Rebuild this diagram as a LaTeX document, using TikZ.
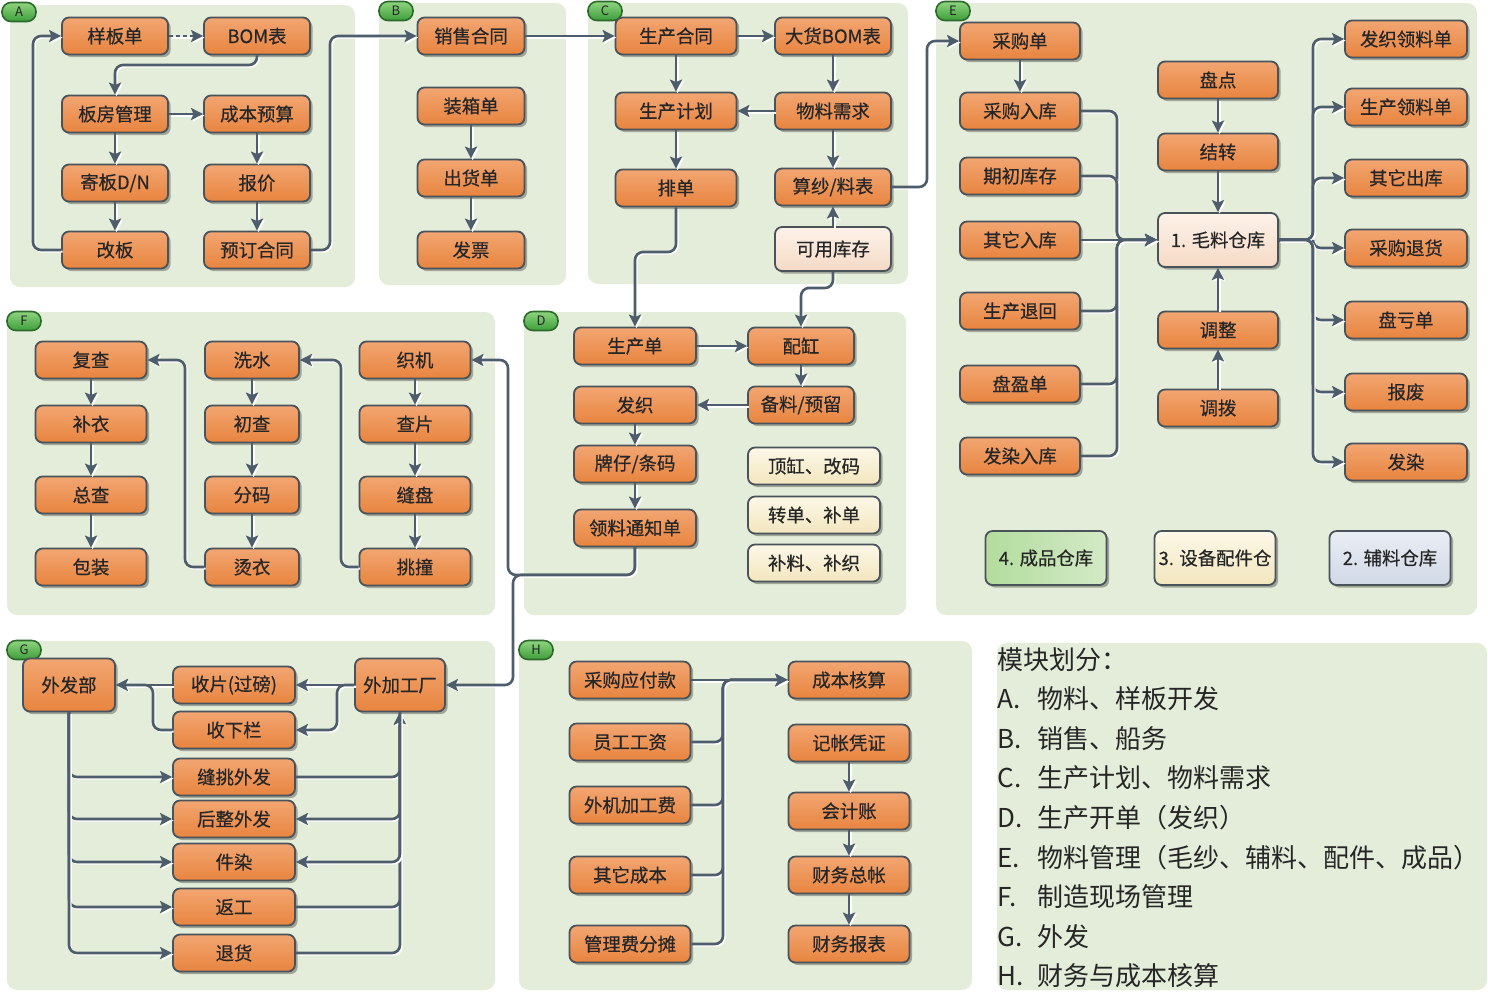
\documentclass[tikz,border=0pt]{standalone}
\usepackage{fontspec}
\setmainfont{Noto Sans CJK SC}
\newfontfamily\boxfont[FakeBold=0.5]{Noto Sans CJK SC}
\usetikzlibrary{arrows.meta,shadows,calc}
\definecolor{panelbg}{HTML}{E4EDDA}
\definecolor{boxdraw}{HTML}{4A525A}
\definecolor{orT}{HTML}{F2A672}
\definecolor{orB}{HTML}{E8843F}
\definecolor{pkT}{HTML}{FDF2E9}
\definecolor{pkB}{HTML}{F5DAC6}
\definecolor{bgT}{HTML}{FCF8E8}
\definecolor{bgB}{HTML}{F3E6BE}
\definecolor{grT}{HTML}{B3DC9E}
\definecolor{grB}{HTML}{D3EAC6}
\definecolor{blT}{HTML}{E9EDF4}
\definecolor{blB}{HTML}{D2D9E6}
\definecolor{tgT}{HTML}{8FD47F}
\definecolor{tgB}{HTML}{3E9E3A}
\definecolor{tgD}{HTML}{2C6A2C}
\definecolor{linec}{HTML}{4E5D6C}
\definecolor{txt}{HTML}{262626}
\begin{document}
\begin{tikzpicture}[x=0.5pt,y=-0.5pt,
  box/.style={draw=boxdraw, line width=0.9pt, rounded corners=3.5pt,
    top color=orT, bottom color=orB, minimum height=18.5pt, inner sep=1pt,
    text=txt, font=\boxfont\fontsize{9.2}{10}\selectfont,
    drop shadow={shadow xshift=1.3pt, shadow yshift=-1.3pt, opacity=0.3, fill=black}},
  bw/.style={minimum width=#1*0.5pt},
  bh/.style={minimum height=#1*0.5pt},
  pink/.style={top color=pkT, bottom color=pkB},
  beige/.style={top color=bgT, bottom color=bgB},
  greenb/.style={left color=grT, right color=grB},
  blueb/.style={top color=blT, bottom color=blB},
  tag/.style={draw=tgD, line width=0.8pt, rounded corners=4.5pt, top color=tgT, bottom color=tgB,
    minimum width=17pt, minimum height=9.5pt, inner sep=0pt, font=\fontsize{6.5}{7}\selectfont, text=txt},
  conn/.style={draw=linec, line width=1.3pt, rounded corners=4pt,
    preaction={draw=white, line width=1.1pt, transform canvas={shift={(0.8pt,-0.8pt)}}}},
  arr/.style={conn, -{Stealth[length=6pt,width=6pt,inset=1.2pt]}},
  leg/.style={anchor=west, inner sep=0pt, text=txt, font=\fontsize{13}{15}\selectfont},
]
\useasboundingbox (0,0) rectangle (1488,993);
\fill[white] (0,0) rectangle (1488,993);
% panels
\fill[panelbg, rounded corners=5pt] (10,5) rectangle (355,287);
\fill[panelbg, rounded corners=5pt] (379,3) rectangle (566,285);
\fill[panelbg, rounded corners=5pt] (588,3) rectangle (908,284);
\fill[panelbg, rounded corners=5pt] (936,3) rectangle (1477,615);
\fill[panelbg, rounded corners=5pt] (7,312) rectangle (495,615);
\fill[panelbg, rounded corners=5pt] (524,312) rectangle (906,615);
\fill[panelbg, rounded corners=5pt] (7,641) rectangle (495,990);
\fill[panelbg, rounded corners=5pt] (519,641) rectangle (972,990);
\fill[panelbg, rounded corners=5pt] (997,643) rectangle (1487,990);
% tags
\node[tag] (tA) at (19,12) {A};
\node[tag] (tB) at (396,11) {B};
\node[tag] (tC) at (605,11) {C};
\node[tag] (tE) at (953,11) {E};
\node[tag] (tF) at (24,321) {F};
\node[tag] (tD) at (541,321) {D};
\node[tag] (tG) at (24,650) {G};
\node[tag] (tH) at (536,650) {H};
% A
\node[box,bw=106] (a1) at (115,36) {样板单};
\node[box,bw=106] (a2) at (257,36) {BOM表};
\node[box,bw=106] (a3) at (115,114) {板房管理};
\node[box,bw=106] (a4) at (257,114) {成本预算};
\node[box,bw=106] (a5) at (115,183) {寄板D/N};
\node[box,bw=106] (a6) at (257,183) {报价};
\node[box,bw=106] (a7) at (115,250) {改板};
\node[box,bw=106] (a8) at (257,250) {预订合同};
% B
\node[box,bw=107] (b1) at (471,36) {销售合同};
\node[box,bw=107] (b2) at (471,106) {装箱单};
\node[box,bw=107] (b3) at (471,178) {出货单};
\node[box,bw=107] (b4) at (471,250) {发票};
% C
\node[box,bw=121] (c1) at (676,36) {生产合同};
\node[box,bw=116] (c2) at (833,36) {大货BOM表};
\node[box,bw=121] (c3) at (676,111) {生产计划};
\node[box,bw=116] (c4) at (833,111) {物料需求};
\node[box,bw=121] (c5) at (676,188) {排单};
\node[box,bw=116] (c6) at (833,187) {算纱/料表};
\node[box,pink,bw=116,bh=44] (c7) at (833,249) {可用库存};
% E
\node[box,bw=120] (e1) at (1020,41) {采购单};
\node[box,bw=120] (e2) at (1020,111) {采购入库};
\node[box,bw=120] (e3) at (1020,176) {期初库存};
\node[box,bw=120] (e4) at (1020,240) {其它入库};
\node[box,bw=120] (e5) at (1020,311) {生产退回};
\node[box,bw=120] (e6) at (1020,384) {盘盈单};
\node[box,bw=120] (e7) at (1020,456) {发染入库};
\node[box,bw=120] (m2) at (1218,80) {盘点};
\node[box,bw=120] (m3) at (1218,152) {结转};
\node[box,pink,bw=120,bh=54] (m1) at (1218,240) {1. 毛料仓库};
\node[box,bw=120] (m4) at (1218,330) {调整};
\node[box,bw=120] (m5) at (1218,408) {调拨};
\node[box,bw=122] (r1) at (1406,39) {发织领料单};
\node[box,bw=122] (r2) at (1406,107) {生产领料单};
\node[box,bw=122] (r3) at (1406,178) {其它出库};
\node[box,bw=122] (r4) at (1406,248) {采购退货};
\node[box,bw=122] (r5) at (1406,320) {盘亏单};
\node[box,bw=122] (r6) at (1406,392) {报废};
\node[box,bw=122] (r7) at (1406,462) {发染};
\node[box,greenb,bw=121,bh=54] (s1) at (1046,558) {4. 成品仓库};
\node[box,beige,bw=121,bh=54] (s2) at (1215,558) {3. 设备配件仓};
\node[box,blueb,bw=121,bh=54] (s3) at (1390,558) {2. 辅料仓库};
% D
\node[box,bw=122] (d1) at (635,346) {生产单};
\node[box,bw=106] (d2) at (801,346) {配缸};
\node[box,bw=106] (d3) at (801,405) {备料/预留};
\node[box,bw=122] (d4) at (635,405) {发织};
\node[box,bw=122] (d5) at (635,464) {牌仔/条码};
\node[box,bw=122] (d6) at (635,528) {领料通知单};
\node[box,beige,bw=132] (n1) at (814,466) {顶缸、改码};
\node[box,beige,bw=132] (n2) at (814,515) {转单、补单};
\node[box,beige,bw=132] (n3) at (814,563) {补料、补织};
% F
\node[box,bw=111] (f1) at (91,360) {复查};
\node[box,bw=111] (f2) at (91,424) {补衣};
\node[box,bw=111] (f3) at (91,495) {总查};
\node[box,bw=111] (f4) at (91,567) {包装};
\node[box,bw=94] (f5) at (252,360) {洗水};
\node[box,bw=94] (f6) at (252,424) {初查};
\node[box,bw=94] (f7) at (252,495) {分码};
\node[box,bw=94] (f8) at (252,567) {烫衣};
\node[box,bw=111] (f9) at (415,360) {织机};
\node[box,bw=111] (f10) at (415,424) {查片};
\node[box,bw=111] (f11) at (415,495) {缝盘};
\node[box,bw=111] (f12) at (415,567) {挑撞};
% G
\node[box,bw=92,bh=53] (g1) at (69,685) {外发部};
\node[box,bw=122] (g2) at (234,685) {收片(过磅)};
\node[box,bw=122] (g3) at (234,730) {收下栏};
\node[box,bw=122] (g4) at (234,777) {缝挑外发};
\node[box,bw=122] (g5) at (234,819) {后整外发};
\node[box,bw=122] (g6) at (234,862) {件染};
\node[box,bw=122] (g7) at (234,907) {返工};
\node[box,bw=122] (g8) at (234,953) {退货};
\node[box,bw=90,bh=53] (g9) at (400,685) {外加工厂};
% H
\node[box,bw=121] (h1) at (630,680) {采购应付款};
\node[box,bw=121] (h2) at (630,742) {员工工资};
\node[box,bw=121] (h3) at (630,805) {外机加工费};
\node[box,bw=121] (h4) at (630,875) {其它成本};
\node[box,bw=121] (h5) at (630,944) {管理费分摊};
\node[box,bw=121] (h6) at (849,680) {成本核算};
\node[box,bw=121] (h7) at (849,743) {记帐凭证};
\node[box,bw=121] (h8) at (849,811) {会计账};
\node[box,bw=121] (h9) at (849,875) {财务总帐};
\node[box,bw=121] (h10) at (849,944) {财务报表};
% helper coordinates
\coordinate (kA) at (33,150);
\coordinate (kAB) at (330,150);
\coordinate (kBOM) at (180,65);
\coordinate (kC5) at (650,252);
\coordinate (kC7) at (815,288);
\coordinate (kCE) at (927,100);
\coordinate (kEL) at (1117,240);
\coordinate (kER) at (1313,240);
\coordinate (kD1) at (508,575);
\coordinate (kD2) at (513,575);
\coordinate (kF1) at (185,450);
\coordinate (kF2) at (341,450);
\coordinate (kG1) at (337,708);
\coordinate (kG2) at (153,708);
\coordinate (kH) at (723,700);
% A connectors
\draw[arr, dash pattern=on 2pt off 1.5pt] (a1) -- (a2);
\draw[arr] (a2.south) |- (kBOM) -| (a3.north);
\draw[arr] (a3) -- (a4);
\draw[arr] (a3) -- (a5);
\draw[arr] (a5) -- (a7);
\draw[arr] (a4) -- (a6);
\draw[arr] (a6) -- (a8);
\draw[arr] (a7.west) -| (kA) |- (a1.west);
\draw[arr] (a8.east) -| (kAB) |- (b1.west);
% B
\draw[arr] (b1) -- (c1);
\draw[arr] (b2) -- (b3);
\draw[arr] (b3) -- (b4);
% C
\draw[arr] (c1) -- (c2);
\draw[arr] (c1) -- (c3);
\draw[arr] (c2) -- (c4);
\draw[arr] (c4) -- (c3);
\draw[arr] (c4) -- (c6);
\draw[arr] (c7) -- (c6);
\draw[arr] (c3) -- (c5);
\draw[arr] (c5.south) |- (kC5) -| (d1.north);
\draw[arr] (c7.south) |- (kC7) -| (d2.north);
\draw[arr] (c6.east) -| (kCE) |- (e1.west);
% E
\draw[arr] (e1) -- (e2);
\draw[arr] (e2.east) -| (kEL) -- (m1.west);
\draw[arr] (e3.east) -| (kEL) -- (m1.west);
\draw[arr] (e4) -- (m1);
\draw[arr] (e5.east) -| (kEL) -- (m1.west);
\draw[arr] (e6.east) -| (kEL) -- (m1.west);
\draw[arr] (e7.east) -| (kEL) -- (m1.west);
\draw[arr] (m2) -- (m3);
\draw[arr] (m3) -- (m1);
\draw[arr] (m5) -- (m4);
\draw[arr] (m4) -- (m1);
\draw[arr] (m1.east) -- (kER) |- (r1.west);
\draw[arr] (m1.east) -- (kER) |- (r2.west);
\draw[arr] (m1.east) -- (kER) |- (r3.west);
\draw[arr] (m1.east) -- (kER) |- (r4.west);
\draw[arr] (m1.east) -- (kER) |- (r5.west);
\draw[arr] (m1.east) -- (kER) |- (r6.west);
\draw[arr] (m1.east) -- (kER) |- (r7.west);
% D
\draw[arr] (d1) -- (d2);
\draw[arr] (d2) -- (d3);
\draw[arr] (d3) -- (d4);
\draw[arr] (d4) -- (d5);
\draw[arr] (d5) -- (d6);
\draw[arr] (d6.south) |- (kD1) |- (f9.east);
\draw[arr] (d6.south) |- (kD2) |- (g9.east);
% F
\draw[arr] (f1) -- (f2);
\draw[arr] (f2) -- (f3);
\draw[arr] (f3) -- (f4);
\draw[arr] (f5) -- (f6);
\draw[arr] (f6) -- (f7);
\draw[arr] (f7) -- (f8);
\draw[arr] (f9) -- (f10);
\draw[arr] (f10) -- (f11);
\draw[arr] (f11) -- (f12);
\draw[arr] (f8.west) -| (kF1) |- (f1.east);
\draw[arr] (f12.west) -| (kF2) |- (f5.east);
% G
\draw[arr] (g9.west) -- (g2.east);
\draw[arr] (g9.west) -| (kG1) |- (g3.east);
\draw[arr] (g2.west) -- (g1.east);
\draw[arr] (g3.west) -| (kG2) |- (g1.east);
\draw[arr] (g1.south) |- (g4.west);
\draw[arr] (g1.south) |- (g5.west);
\draw[arr] (g1.south) |- (g6.west);
\draw[arr] (g1.south) |- (g7.west);
\draw[arr] (g1.south) |- (g8.west);
\draw[arr] (g4.east) -| (g9.south);
\draw[arr] (g7.east) -| (g9.south);
\draw[arr] (g8.east) -| (g9.south);
\draw[arr] (g9.south) |- (g5.east);
\draw[arr] (g9.south) |- (g6.east);
% H
\draw[arr] (h1) -- (h6);
\draw[arr] (h2.east) -| (kH) |- (h6.west);
\draw[arr] (h3.east) -| (kH) |- (h6.west);
\draw[arr] (h4.east) -| (kH) |- (h6.west);
\draw[arr] (h5.east) -| (kH) |- (h6.west);
\draw[arr] (h7) -- (h8);
\draw[arr] (h8) -- (h9);
\draw[arr] (h9) -- (h10);
% legend
\node[leg] (t0) at (997,660) {模块划分：};
\node[leg] (t1) at (997,699) {\makebox[20pt][l]{A.}物料、样板开发};
\node[leg] (t2) at (997,739) {\makebox[20pt][l]{B.}销售、船务};
\node[leg] (t3) at (997,778) {\makebox[20pt][l]{C.}生产计划、物料需求};
\node[leg] (t4) at (997,818) {\makebox[20pt][l]{D.}生产开单（发织）};
\node[leg] (t5) at (997,858) {\makebox[20pt][l]{E.}物料管理（毛纱、辅料、配件、成品）};
\node[leg] (t6) at (997,897) {\makebox[20pt][l]{F.}制造现场管理};
\node[leg] (t7) at (997,937) {\makebox[20pt][l]{G.}外发};
\node[leg] (t8) at (997,976) {\makebox[20pt][l]{H.}财务与成本核算};
\end{tikzpicture}
\end{document}
